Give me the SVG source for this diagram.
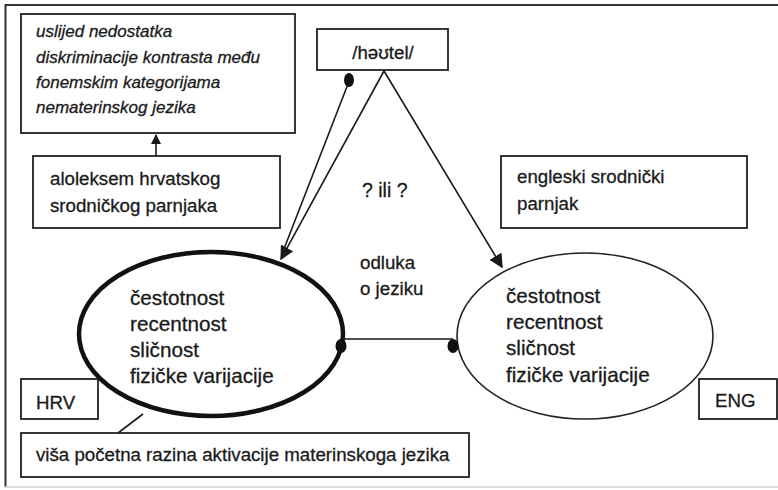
<svg xmlns="http://www.w3.org/2000/svg" width="778" height="490" viewBox="0 0 778 490">
<style>
.box{fill:#fff;stroke:#222;stroke-width:1.8}
.t{font-family:"Liberation Sans",Arial,sans-serif;font-size:18.7px;fill:#1a1a1a;stroke:#1a1a1a;stroke-width:0.3}
.it{font-style:italic;font-size:17px}
.big{font-size:20.7px}
.ln{stroke:#1a1a1a;stroke-width:1.6;fill:none}
</style>
<defs>
<marker id="arr" viewBox="0 0 10 10" refX="9" refY="5" markerWidth="10" markerHeight="10" markerUnits="userSpaceOnUse" orient="auto">
<path d="M0,0 L10,5 L0,10 z" fill="#1a1a1a"/>
</marker>
<marker id="arrB" viewBox="0 0 10 10" refX="9" refY="5" markerWidth="14" markerHeight="14" markerUnits="userSpaceOnUse" orient="auto">
<path d="M0,0 L10,5 L0,10 z" fill="#1a1a1a"/>
</marker>
</defs>
<rect x="0" y="0" width="778" height="490" fill="#fff"/>
<path d="M5.5,487 L5.5,5 L778,5" fill="none" stroke="#333" stroke-width="2"/>
<line x1="5" y1="487" x2="778" y2="487" stroke="#ccc" stroke-width="1.5"/>

<g id="note-top">
<rect class="box" x="21" y="14" width="274" height="119"/>
<text class="t it" x="36" y="37">uslijed nedostatka</text>
<text class="t it" x="36" y="63">diskriminacije kontrasta među</text>
<text class="t it" x="36" y="88">fonemskim kategorijama</text>
<text class="t it" x="36" y="113">nematerinskog jezika</text>
</g>

<g id="aloleksem">
<rect class="box" x="33" y="156" width="247" height="72"/>
<text class="t" x="50" y="185">aloleksem hrvatskog</text>
<text class="t" x="50" y="212">srodničkog parnjaka</text>
</g>

<g id="hotel">
<rect class="box" x="317" y="29" width="131" height="41"/>
<text class="t" x="383" y="59" text-anchor="middle">/həʊtel/</text>
</g>

<g id="question">
<text class="t" x="362" y="197" style="font-size:19.5px">? ili ?</text>
</g>

<g id="decision">
<text class="t" x="360" y="269">odluka</text>
<text class="t" x="360" y="295">o jeziku</text>
</g>

<g id="eng-cognate">
<rect class="box" x="501" y="156" width="246" height="72"/>
<text class="t" x="517" y="183">engleski srodnički</text>
<text class="t" x="517" y="210">parnjak</text>
</g>

<g id="hrv-ellipse">
<ellipse cx="211" cy="334" rx="132" ry="82" fill="#fff" stroke="#111" stroke-width="4.5"/>
<text class="t big" x="130" y="305">čestotnost</text>
<text class="t big" x="130" y="331">recentnost</text>
<text class="t big" x="130" y="357">sličnost</text>
<text class="t big" x="130" y="383">fizičke varijacije</text>
</g>

<g id="eng-ellipse">
<ellipse cx="585" cy="336" rx="128" ry="83" fill="#fff" stroke="#222" stroke-width="1.6"/>
<text class="t big" x="506" y="303">čestotnost</text>
<text class="t big" x="506" y="329">recentnost</text>
<text class="t big" x="506" y="355">sličnost</text>
<text class="t big" x="506" y="382">fizičke varijacije</text>
</g>

<g id="hrv">
<rect class="box" x="21" y="379" width="77" height="40"/>
<text class="t" x="36" y="409">HRV</text>
</g>

<g id="eng">
<rect class="box" x="699" y="379" width="78" height="40"/>
<text class="t" x="715" y="407">ENG</text>
</g>

<g id="activation">
<rect class="box" x="21" y="433" width="448" height="44"/>
<text class="t" x="36" y="461">viša početna razina aktivacije materinskoga jezika</text>
</g>

<g id="connectors">
<line class="ln" x1="156" y1="156" x2="156" y2="135" marker-end="url(#arr)"/>
<line class="ln" x1="348" y1="84" x2="282" y2="254"/>
<ellipse cx="349" cy="80" rx="5" ry="7" fill="#111"/>
<line class="ln" x1="384" y1="71" x2="281" y2="259" marker-end="url(#arrB)"/>
<line class="ln" x1="384" y1="71" x2="502" y2="267" marker-end="url(#arrB)"/>
<line class="ln" x1="343" y1="339" x2="453" y2="339"/>
<ellipse cx="341" cy="346" rx="5.5" ry="7" fill="#111"/>
<ellipse cx="453" cy="346" rx="5.5" ry="7" fill="#111"/>
<line class="ln" x1="143" y1="414" x2="118" y2="433" stroke-width="1.3"/>
</g>
</svg>
